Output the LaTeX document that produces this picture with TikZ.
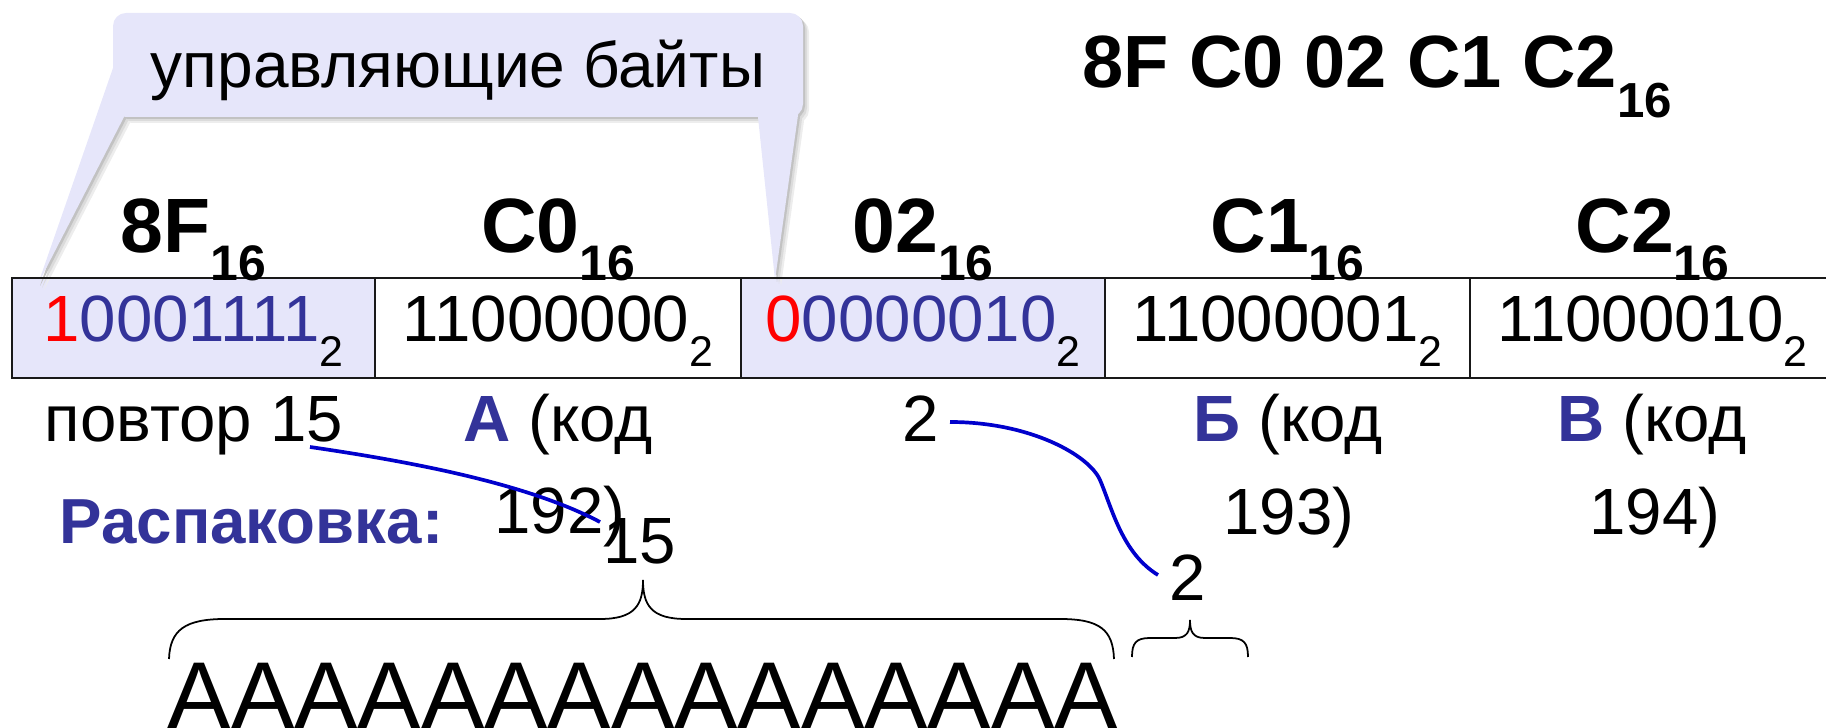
\documentclass[tikz,border=0pt]{standalone}
\usepackage{fontspec}
\setmainfont{Liberation Sans}
\definecolor{lav}{RGB}{230,230,250}
\definecolor{navy}{RGB}{51,51,153}
\definecolor{linkblue}{RGB}{0,0,204}
\newcommand\hsub[1]{\raisebox{-7.7pt}{\fontsize{14.2pt}{14.2pt}\selectfont #1}}
\newcommand\tsub[1]{\raisebox{-8.25pt}{\fontsize{14pt}{14pt}\selectfont #1}}
\newcommand\csub[1]{\raisebox{-7.1pt}{\fontsize{12.2pt}{12.2pt}\selectfont #1}}
\newcommand\callshape[1]{%
  \fill[#1, rounded corners=3.7pt] (113,13) rectangle (803,117);
  \fill[#1] (113,68) -- (38,284) -- (124,117) -- (130,100) -- cycle;
  \fill[#1] (758,117) -- (775,280) -- (799,108) -- (780,100) -- cycle;}
\tikzset{
  txt/.style={inner sep=0pt, anchor=base, font=\fontsize{18.6pt}{18.6pt}\selectfont},
  hdr/.style={inner sep=0pt, anchor=base, font=\fontsize{21.9pt}{21.9pt}\selectfont\bfseries},
  gridline/.style={line width=0.7pt, draw=black!90},
  link/.style={draw=linkblue, line width=1.05pt},
  bracepath/.style={draw=black, line width=0.5pt}
}
\begin{document}
\begin{tikzpicture}[x=0.01cm, y=-0.01cm]
\useasboundingbox (0,0) rectangle (1826,728);
\clip (0,0) rectangle (1826,728);
% cell fills
\fill[lav] (12,278) rectangle (375,378);
\fill[lav] (741,278) rectangle (1105,378);
% callout shadow and shape
\begin{scope}[shift={(6,6)}]\callshape{black!7}\end{scope}
\begin{scope}[shift={(4,4)}]\callshape{black!14}\end{scope}
\begin{scope}[shift={(2,2)}]\callshape{black!24}\end{scope}
\callshape{lav}
% table lines
\draw[gridline] (1840,278) -- (12,278) -- (12,378) -- (1840,378);
\foreach \xx in {375,741,1105,1470} \draw[gridline] (\xx,278) -- (\xx,378);
% callout text and title
\node[inner sep=0pt, anchor=base, font=\fontsize{18.2pt}{18.2pt}\selectfont] (ctext) at (458,88) {управляющие байты};
\node[inner sep=0pt, anchor=base, font=\fontsize{21.05pt}{21.05pt}\selectfont\bfseries] (title) at (1377,88) {8F C0 02 C1 C2\tsub{16}};
% headers
\node[hdr] (h1) at (193.5,253) {8F\hsub{16}};
\node[hdr] (h2) at (558,253) {C0\hsub{16}};
\node[hdr] (h3) at (923,253) {02\hsub{16}};
\node[hdr] (h4) at (1287.5,253) {C1\hsub{16}};
\node[hdr] (h5) at (1652.5,253) {C2\hsub{16}};
% cells
\node[txt] (b1) at (193.5,342) {\textcolor{red}{1}\textcolor{navy}{0001111}\csub{2}};
\node[txt] (b2) at (558,342) {11000000\csub{2}};
\node[txt] (b3) at (923,342) {\textcolor{red}{0}\textcolor{navy}{0000010}\csub{2}};
\node[txt] (b4) at (1287.5,342) {11000001\csub{2}};
\node[txt] (b5) at (1652.5,342) {11000010\csub{2}};
% below table
\node[txt] (p1) at (194,442) {повтор 15};
\node[txt] (p2) at (558,442) {\textcolor{navy}{\bfseries А} (код};
\node[txt] (p2b) at (560,534) {192)};
\node[txt] (p3) at (921,442) {2};
\node[txt] (p4) at (1288,442) {\textcolor{navy}{\bfseries Б} (код};
\node[txt] (p4b) at (1289,535) {193)};
\node[txt] (p5) at (1652,442) {\textcolor{navy}{\bfseries В} (код};
\node[txt] (p5b) at (1655,535) {194)};
\node[inner sep=0pt, anchor=base west, text=navy, font=\fontsize{18.1pt}{18.1pt}\selectfont\bfseries] (rasp) at (59,544) {Распаковка:};
\node[txt] (n15) at (640,564) {15};
\node[txt] (n2) at (1188,601) {2};
\node[inner sep=0pt, anchor=base west, font=\fontsize{27pt}{27pt}\selectfont] (aaa) at (167,729) {ААААААААААААААА};
% connectors
\coordinate (s1) at (310,447);
\coordinate (e1) at (600,522);
\draw[link] (s1) .. controls (420,463) and (530,485) .. (e1);
\coordinate (s2) at (950,422);
\coordinate (m2) at (1100,480);
\coordinate (e2) at (1158,575);
\draw[link] (s2) .. controls (1030,422) and (1089,455) .. (m2) .. controls (1112,508) and (1122,553) .. (e2);
% braces
\draw[bracepath] (169,659) .. controls (170,630) and (185,619) .. (225,619) -- (600,619)
  .. controls (635,619) and (643,605) .. (643,580)
  .. controls (643,605) and (651,619) .. (686,619) -- (1060,619)
  .. controls (1100,619) and (1113,630) .. (1114,659);
\draw[bracepath] (1132,657) .. controls (1132,643) and (1136,638) .. (1150,638) -- (1175,638)
  .. controls (1187,638) and (1190,632) .. (1190,620)
  .. controls (1190,632) and (1193,638) .. (1205,638) -- (1230,638)
  .. controls (1244,638) and (1248,643) .. (1248,657);
\end{tikzpicture}
\end{document}
